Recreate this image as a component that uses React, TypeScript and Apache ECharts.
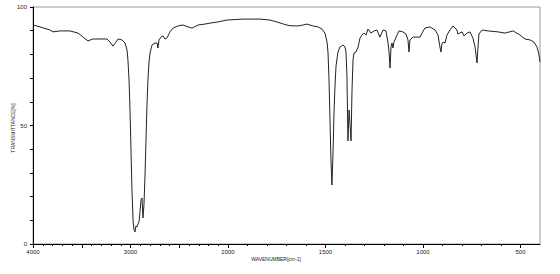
import React, { useEffect, useRef } from "react";
import * as echarts from "echarts";

// Wavenumber (cm-1) and transmittance (%)
const wavenumbers = [
  4000, 3928, 3826, 3795, 3723, 3621, 3538, 3487, 3436, 3385, 3313, 3241, 3210, 3180, 3149, 3128,
  3087, 3056, 3036, 3026, 3015, 3005, 2995, 2985, 2974, 2964, 2954, 2944, 2933, 2923, 2913, 2903,
  2892, 2882, 2872, 2862, 2851, 2841, 2831, 2821, 2810, 2800, 2779, 2749, 2728, 2718, 2708, 2687,
  2667, 2646, 2626, 2595, 2564, 2513, 2462, 2410, 2369, 2308, 2236, 2185, 2103, 2010, 1964, 1923,
  1836, 1785, 1749, 1708, 1682, 1641, 1615, 1595, 1564, 1538, 1518, 1503, 1492, 1487, 1482, 1477,
  1472, 1467, 1461, 1456, 1451, 1446, 1436, 1426, 1410, 1400, 1395, 1390, 1385, 1379, 1374, 1369,
  1364, 1359, 1354, 1344, 1333, 1323, 1313, 1303, 1292, 1282, 1267, 1251, 1236, 1221, 1205, 1190,
  1180, 1174, 1169, 1164, 1159, 1154, 1149, 1133, 1123, 1103, 1087, 1077, 1072, 1067, 1051, 1015,
  1005, 990, 964, 938, 923, 913, 908, 903, 897, 887, 877, 862, 846, 826, 821, 800,
  790, 774, 759, 744, 733, 728, 723, 718, 713, 697, 667, 615, 579, 538, 503, 477,
  451, 431, 415, 405, 400,
];
const transmittance = [
  92.4, 91.6, 90.3, 89.5, 89.9, 89.9, 89.0, 87.3, 85.7, 86.5, 86.5, 86.5, 85.2, 83.5, 85.2, 86.5,
  86.1, 84.8, 81.9, 77.6, 69.2, 56.5, 39.7, 22.8, 10.1, 5.9, 5.1, 7.6, 7.2, 8.4, 9.3, 13.5,
  18.6, 19.4, 11.0, 16.5, 29.1, 43.9, 58.6, 69.2, 76.8, 80.6, 84.0, 84.8, 84.8, 82.7, 86.1, 87.3,
  87.8, 86.5, 86.9, 89.5, 91.1, 92.0, 92.4, 91.6, 91.1, 92.4, 92.8, 93.2, 93.7, 94.5, 94.7, 94.9,
  94.9, 94.5, 93.7, 92.6, 92.1, 92.0, 92.4, 92.8, 92.0, 91.6, 90.7, 89.0, 85.2, 80.6, 69.2, 52.3,
  35.4, 24.9, 39.7, 56.5, 67.1, 75.1, 81.0, 83.1, 84.0, 83.1, 81.0, 71.3, 43.5, 56.5, 50.2, 43.5,
  65.0, 77.6, 80.6, 81.0, 83.1, 86.9, 88.2, 89.0, 88.2, 90.7, 89.0, 89.9, 90.3, 87.3, 90.3, 89.9,
  85.2, 81.0, 74.3, 83.1, 84.8, 82.7, 85.2, 88.2, 89.9, 89.5, 88.6, 86.1, 81.0, 86.1, 87.3, 87.3,
  89.0, 91.1, 91.6, 90.3, 88.2, 83.1, 81.0, 84.4, 85.2, 84.8, 88.2, 90.3, 92.0, 90.3, 88.6, 89.5,
  87.8, 89.0, 89.5, 86.9, 83.1, 79.7, 76.4, 83.1, 88.6, 90.3, 89.9, 89.5, 89.0, 89.9, 88.2, 86.5,
  86.1, 85.2, 83.1, 79.7, 76.8,
];

const xTickLabels = [4000, 3000, 2000, 1500, 1000, 500];
const xMajorTicks = [4000, 3500, 3000, 2500, 2000, 1500, 1000, 500];
const xMinorTicks = [
  3900, 3800, 3700, 3600, 3400, 3300, 3200, 3100, 2900, 2800, 2700, 2600, 2400, 2300, 2200, 2100,
  1900, 1800, 1700, 1600, 1400, 1300, 1200, 1100, 900, 800, 700, 600,
];
const yTickLabels = [0, 50, 100];

const xTitle = "WAVENUMBER[cm-1]";
const yTitle = "TRANSMITTANCE[%]";

// IR spectra use a scale that is twice as compressed above 2000 cm-1
const toAxis = (w: number) => (w <= 2000 ? w : 2000 + (w - 2000) / 2);
const fromAxis = (u: number) => (u <= 2000 ? u : 2000 + (u - 2000) * 2);

export default function App() {
  const ref = useRef<HTMLDivElement>(null);

  useEffect(() => {
    document.body.style.margin = "0";
    if (!ref.current) return;
    const chart = echarts.init(ref.current, undefined, { renderer: "svg" });
    const font = "Liberation Sans";
    const axisCommon = {
      type: "value" as const,
      min: toAxis(400),
      max: toAxis(4000),
      inverse: true,
      position: "bottom" as const,
      splitLine: { show: false },
    };
    chart.setOption({
      animation: false,
      backgroundColor: "#fff",
      grid: {
        left: 33,
        right: 20,
        top: 7,
        bottom: 30,
        show: true,
        borderColor: "#9a9a9a",
        borderWidth: 1,
        backgroundColor: "transparent",
      },
      xAxis: [
        {
          ...axisCommon,
          axisLine: { show: true, onZero: false, lineStyle: { color: "#000", width: 1 } },
          axisTick: {
            show: true,
            length: 4,
            customValues: xMajorTicks.map(toAxis),
            lineStyle: { color: "#000", width: 1 },
          },
          axisLabel: {
            show: true,
            customValues: xTickLabels.map(toAxis),
            formatter: (v: number) => String(Math.round(fromAxis(v))),
            fontSize: 6,
            fontFamily: font,
            color: "#222",
            margin: 5,
            showMinLabel: true,
            showMaxLabel: true,
          },
        },
        {
          ...axisCommon,
          axisLine: { show: false },
          axisTick: {
            show: true,
            length: 2,
            customValues: xMinorTicks.map(toAxis),
            lineStyle: { color: "#000", width: 1 },
          },
          axisLabel: { show: false },
        },
      ],
      yAxis: {
        type: "value",
        min: 0,
        max: 100,
        interval: 10,
        splitLine: { show: false },
        axisLine: { show: true, onZero: false, lineStyle: { color: "#000", width: 1 } },
        axisTick: { show: true, length: 3, lineStyle: { color: "#000", width: 1 } },
        axisLabel: {
          formatter: (v: number) => (yTickLabels.includes(v) ? String(v) : ""),
          fontSize: 6,
          fontFamily: font,
          color: "#222",
          margin: 6,
        },
      },
      series: [
        {
          type: "line",
          xAxisIndex: 0,
          yAxisIndex: 0,
          data: wavenumbers.map((w, i) => [toAxis(w), transmittance[i]]),
          showSymbol: false,
          symbol: "none",
          lineStyle: { color: "#222", width: 1 },
        },
      ],
      graphic: [
        {
          type: "text",
          x: 276,
          y: 259,
          style: {
            text: xTitle,
            fontSize: 5,
            fontFamily: font,
            fill: "#222",
            align: "center",
            verticalAlign: "middle",
          },
        },
        {
          type: "text",
          x: 13,
          y: 128,
          rotation: Math.PI / 2,
          style: {
            text: yTitle,
            fontSize: 5,
            fontFamily: font,
            fill: "#222",
            align: "center",
            verticalAlign: "middle",
          },
        },
      ],
    });
    return () => chart.dispose();
  }, []);

  return <div ref={ref} style={{ width: 560, height: 274 }} />;
}
